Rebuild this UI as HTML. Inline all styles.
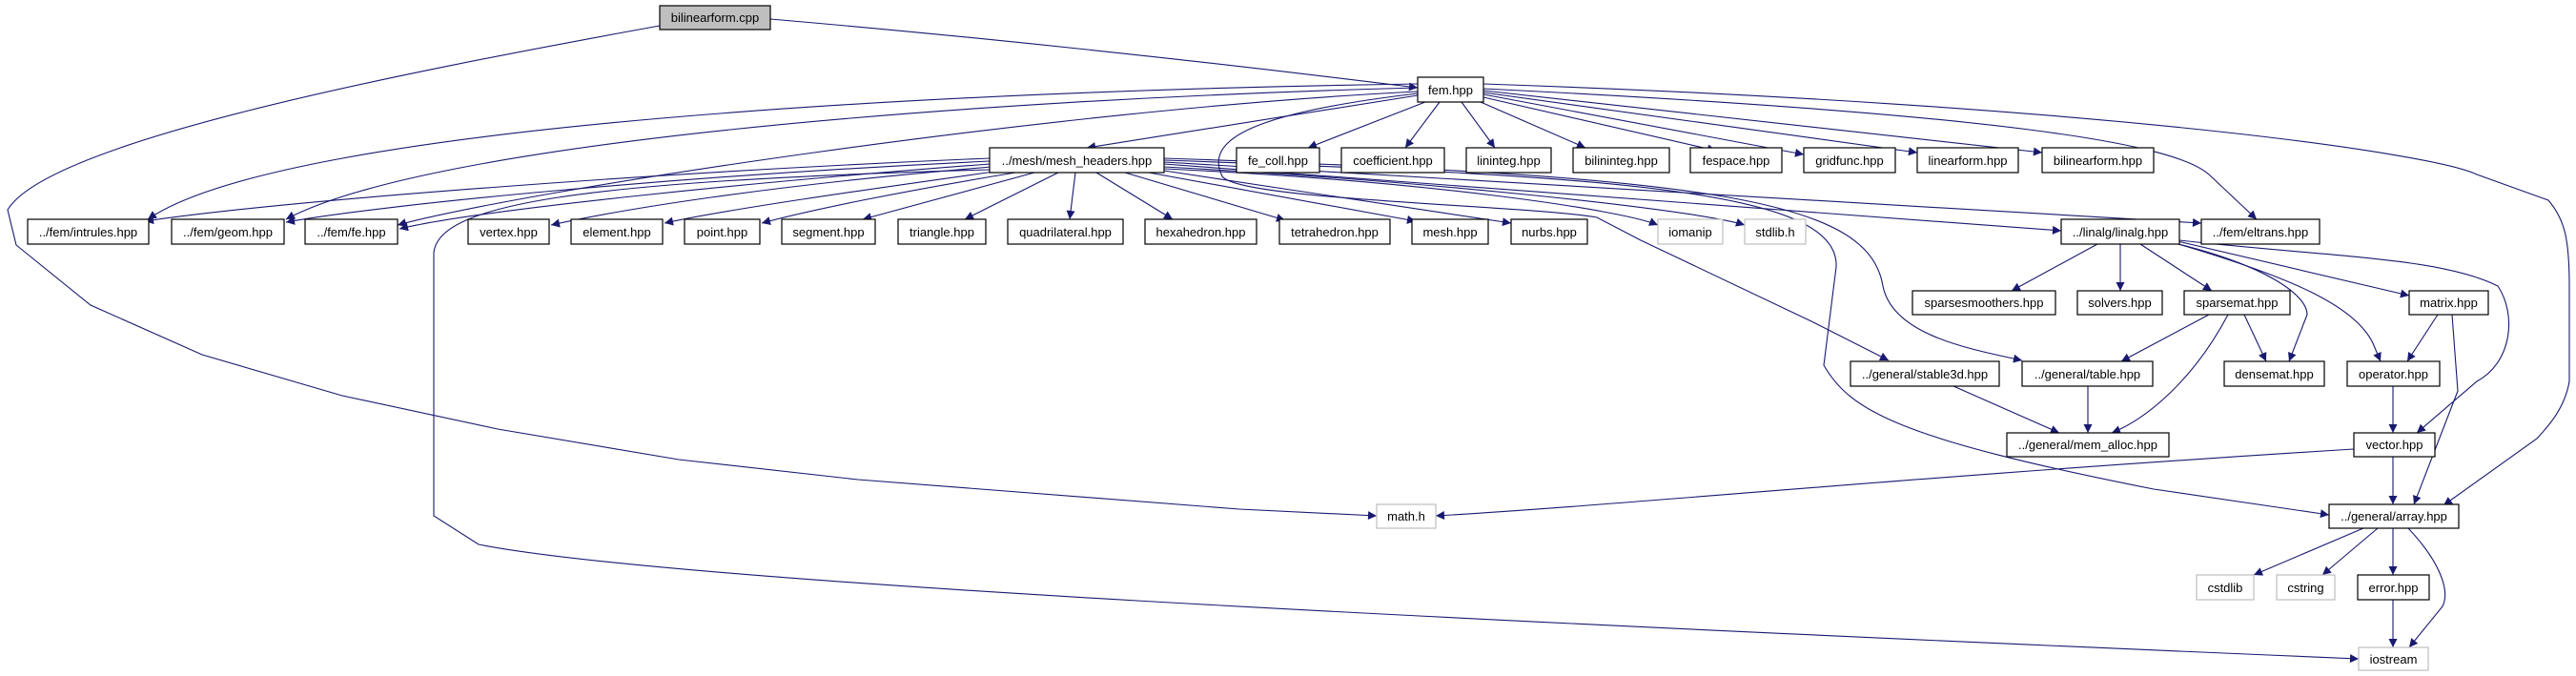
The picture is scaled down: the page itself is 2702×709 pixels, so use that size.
<!DOCTYPE html>
<html><head><meta charset="utf-8"><style>
html,body{margin:0;padding:0;background:#fff;}
svg{display:block;}
text{font-family:"Liberation Sans",Arial,sans-serif;font-size:13px;fill:#000;}
</style></head><body>
<svg width="2702" height="709" viewBox="0 0 2702 709" xmlns="http://www.w3.org/2000/svg">
<defs>
<marker id="a" viewBox="0 0 10 10" refX="10" refY="5" markerWidth="11" markerHeight="9" markerUnits="userSpaceOnUse" orient="auto">
<path d="M0,0 L10,5 L0,10 z" fill="#191970"/>
</marker>
</defs>
<g fill="none" stroke="#191970" stroke-width="1.1" marker-end="url(#a)">
<path d="M808,20 C1100,45 1350,75 1487,92"/>
<path d="M692,27 C400,80 50,150 8,220 L17,257 L95,320 L212,372 L359,415 L522,450 L712,482 L900,503 L1300,534 L1444,541"/>
<path d="M1487,100 L1140,155"/>
<path d="M1495,107 L1372,155"/>
<path d="M1510,107 L1474,155"/>
<path d="M1533,107 L1568,155"/>
<path d="M1553,107 L1663,155"/>
<path d="M1556,102 L1800,158"/>
<path d="M1556,99 L1892,162"/>
<path d="M1556,97 L2011,160"/>
<path d="M1556,95 L2142,160"/>
<path d="M1487,88 C1000,95 300,130 155,230"/>
<path d="M1487,92 C1000,105 450,150 300,230"/>
<path d="M1487,96 C1100,115 550,200 417,236"/>
<path d="M1556,93 C2100,120 2280,150 2317,183 L2367,230"/>
<path d="M1556,88 C2200,110 2550,160 2598,183 L2673,210 C2690,230 2695,250 2695,300 L2695,400 C2690,430 2670,450 2661,460 L2563,530"/>
<path d="M1487,98 C1300,120 1265,150 1282,185 C1300,210 1600,215 1675,228 L1721,252 L1900,337 L1981,378"/>
<path d="M1038,166 C700,180 300,210 152,232"/>
<path d="M1038,169 C700,185 400,215 300,233"/>
<path d="M1038,172 C800,190 500,220 419,240"/>
<path d="M1040,175 C800,195 650,220 578,236"/>
<path d="M1050,179 C900,200 760,220 697,234"/>
<path d="M1065,181 C950,200 850,220 799,234"/>
<path d="M1085,181 L905,230"/>
<path d="M1110,181 L1012,230"/>
<path d="M1128,181 L1122,230"/>
<path d="M1150,181 L1230,230"/>
<path d="M1180,181 L1348,231"/>
<path d="M1205,181 L1485,232"/>
<path d="M1221,179 L1585,234"/>
<path d="M1221,177 C1500,190 1700,220 1739,236"/>
<path d="M1221,175 C1500,190 1780,220 1830,236"/>
<path d="M1221,172 L2162,242"/>
<path d="M1221,170 L2309,234"/>
<path d="M1221,166 C1800,185 1960,210 1975,300 C1985,350 2060,365 2121,378"/>
<path d="M1221,168 C1700,185 1930,200 1926,280 L1913,383 C1940,430 1990,460 2259,513 L2443,540"/>
<path d="M1038,178 C600,190 460,215 455,265 L455,541 L502,571 C700,610 1500,650 2474,691"/>
<path d="M2200,256 L2110,305"/>
<path d="M2224,256 L2224,305"/>
<path d="M2245,256 L2320,305"/>
<path d="M2284,253 L2527,310"/>
<path d="M2285,256 C2380,280 2420,310 2420,330 L2401,379"/>
<path d="M2285,256 C2400,290 2470,320 2489,360 L2497,379"/>
<path d="M2286,252 C2450,270 2560,270 2620,300 C2640,330 2635,380 2598,400 L2535,454"/>
<path d="M2317,330 L2225,379"/>
<path d="M2337,330 C2300,400 2250,440 2215,454"/>
<path d="M2354,330 L2377,379"/>
<path d="M2557,330 L2525,379"/>
<path d="M2572,330 L2578,410 L2532,529"/>
<path d="M2190,405 L2190,454"/>
<path d="M2049,405 L2160,454"/>
<path d="M2510,405 L2510,454"/>
<path d="M2510,479 L2510,529"/>
<path d="M2469,471 C2000,500 1700,530 1506,541"/>
<path d="M2479,554 L2364,603"/>
<path d="M2494,554 L2436,603"/>
<path d="M2510,554 L2510,603"/>
<path d="M2526,554 C2560,590 2570,620 2562,636 L2527,679"/>
<path d="M2510,629 L2510,679"/>
</g>
<g stroke-width="1.2">
<rect x="692" y="6" width="116" height="25" fill="#bfbfbf" stroke="#000"/>
<rect x="1487" y="81" width="69" height="26" fill="#fff" stroke="#000"/>
<rect x="1038" y="155" width="183" height="26" fill="#fff" stroke="#000"/>
<rect x="1297" y="155" width="87" height="26" fill="#fff" stroke="#000"/>
<rect x="1407" y="155" width="108" height="26" fill="#fff" stroke="#000"/>
<rect x="1538" y="155" width="89" height="26" fill="#fff" stroke="#000"/>
<rect x="1650" y="155" width="101" height="26" fill="#fff" stroke="#000"/>
<rect x="1773" y="155" width="96" height="26" fill="#fff" stroke="#000"/>
<rect x="1892" y="155" width="96" height="26" fill="#fff" stroke="#000"/>
<rect x="2011" y="155" width="106" height="26" fill="#fff" stroke="#000"/>
<rect x="2142" y="155" width="117" height="26" fill="#fff" stroke="#000"/>
<rect x="29" y="230" width="127" height="26" fill="#fff" stroke="#000"/>
<rect x="180" y="230" width="118" height="26" fill="#fff" stroke="#000"/>
<rect x="320" y="230" width="97" height="26" fill="#fff" stroke="#000"/>
<rect x="491" y="230" width="85" height="26" fill="#fff" stroke="#000"/>
<rect x="599" y="230" width="96" height="26" fill="#fff" stroke="#000"/>
<rect x="718" y="230" width="79" height="26" fill="#fff" stroke="#000"/>
<rect x="820" y="230" width="98" height="26" fill="#fff" stroke="#000"/>
<rect x="942" y="230" width="92" height="26" fill="#fff" stroke="#000"/>
<rect x="1057" y="230" width="121" height="26" fill="#fff" stroke="#000"/>
<rect x="1201" y="230" width="117" height="26" fill="#fff" stroke="#000"/>
<rect x="1342" y="230" width="116" height="26" fill="#fff" stroke="#000"/>
<rect x="1481" y="230" width="80" height="26" fill="#fff" stroke="#000"/>
<rect x="1585" y="230" width="80" height="26" fill="#fff" stroke="#000"/>
<rect x="1739" y="230" width="68" height="26" fill="#fff" stroke="#bfbfbf"/>
<rect x="1830" y="230" width="64" height="26" fill="#fff" stroke="#bfbfbf"/>
<rect x="2162" y="230" width="124" height="26" fill="#fff" stroke="#000"/>
<rect x="2309" y="230" width="124" height="26" fill="#fff" stroke="#000"/>
<rect x="2006" y="305" width="150" height="25" fill="#fff" stroke="#000"/>
<rect x="2179" y="305" width="89" height="25" fill="#fff" stroke="#000"/>
<rect x="2291" y="305" width="111" height="25" fill="#fff" stroke="#000"/>
<rect x="2527" y="305" width="83" height="25" fill="#fff" stroke="#000"/>
<rect x="1941" y="379" width="156" height="26" fill="#fff" stroke="#000"/>
<rect x="2121" y="379" width="137" height="26" fill="#fff" stroke="#000"/>
<rect x="2333" y="379" width="105" height="26" fill="#fff" stroke="#000"/>
<rect x="2462" y="379" width="97" height="26" fill="#fff" stroke="#000"/>
<rect x="2105" y="454" width="170" height="25" fill="#fff" stroke="#000"/>
<rect x="2469" y="454" width="85" height="25" fill="#fff" stroke="#000"/>
<rect x="1444" y="529" width="62" height="25" fill="#fff" stroke="#bfbfbf"/>
<rect x="2443" y="529" width="136" height="25" fill="#fff" stroke="#000"/>
<rect x="2304" y="603" width="60" height="26" fill="#fff" stroke="#bfbfbf"/>
<rect x="2388" y="603" width="61" height="26" fill="#fff" stroke="#bfbfbf"/>
<rect x="2473" y="603" width="75" height="26" fill="#fff" stroke="#000"/>
<rect x="2474" y="679" width="73" height="24" fill="#fff" stroke="#bfbfbf"/>
</g>
<g text-anchor="middle">
<text x="750" y="23">bilinearform.cpp</text>
<text x="1521.5" y="99">fem.hpp</text>
<text x="1129.5" y="173">../mesh/mesh_headers.hpp</text>
<text x="1340.5" y="173">fe_coll.hpp</text>
<text x="1461" y="173">coefficient.hpp</text>
<text x="1582.5" y="173">lininteg.hpp</text>
<text x="1700.5" y="173">bilininteg.hpp</text>
<text x="1821" y="173">fespace.hpp</text>
<text x="1940" y="173">gridfunc.hpp</text>
<text x="2064" y="173">linearform.hpp</text>
<text x="2200.5" y="173">bilinearform.hpp</text>
<text x="92.5" y="248">../fem/intrules.hpp</text>
<text x="239" y="248">../fem/geom.hpp</text>
<text x="368.5" y="248">../fem/fe.hpp</text>
<text x="533.5" y="248">vertex.hpp</text>
<text x="647" y="248">element.hpp</text>
<text x="757.5" y="248">point.hpp</text>
<text x="869" y="248">segment.hpp</text>
<text x="988" y="248">triangle.hpp</text>
<text x="1117.5" y="248">quadrilateral.hpp</text>
<text x="1259.5" y="248">hexahedron.hpp</text>
<text x="1400" y="248">tetrahedron.hpp</text>
<text x="1521" y="248">mesh.hpp</text>
<text x="1625" y="248">nurbs.hpp</text>
<text x="1773" y="248">iomanip</text>
<text x="1862" y="248">stdlib.h</text>
<text x="2224" y="248">../linalg/linalg.hpp</text>
<text x="2371" y="248">../fem/eltrans.hpp</text>
<text x="2081" y="322">sparsesmoothers.hpp</text>
<text x="2223.5" y="322">solvers.hpp</text>
<text x="2346.5" y="322">sparsemat.hpp</text>
<text x="2568.5" y="322">matrix.hpp</text>
<text x="2019" y="397">../general/stable3d.hpp</text>
<text x="2189.5" y="397">../general/table.hpp</text>
<text x="2385.5" y="397">densemat.hpp</text>
<text x="2510.5" y="397">operator.hpp</text>
<text x="2190" y="471">../general/mem_alloc.hpp</text>
<text x="2511.5" y="471">vector.hpp</text>
<text x="1475" y="546">math.h</text>
<text x="2511" y="546">../general/array.hpp</text>
<text x="2334" y="621">cstdlib</text>
<text x="2418.5" y="621">cstring</text>
<text x="2510.5" y="621">error.hpp</text>
<text x="2510.5" y="696">iostream</text>
</g>
</svg>
</body></html>
